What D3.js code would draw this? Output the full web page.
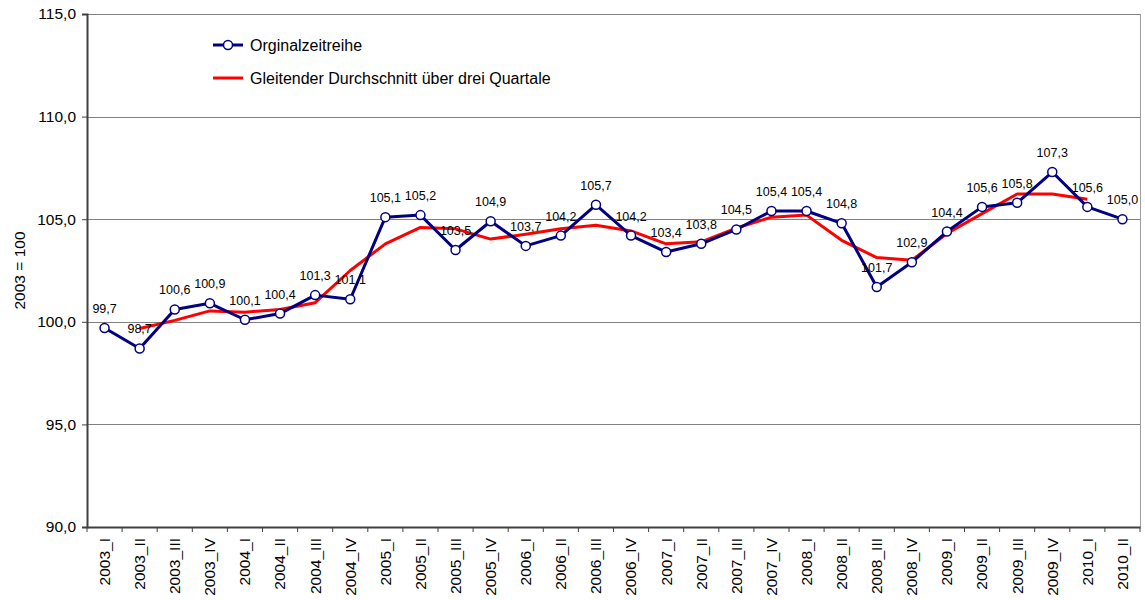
<!DOCTYPE html>
<html><head><meta charset="utf-8">
<script src="https://cdn.jsdelivr.net/npm/d3@7"></script>
<style>body{margin:0;background:#fff;}svg{font-family:"Liberation Sans",Arial,sans-serif;}</style>
</head><body>
<svg id="c" width="1145" height="600"></svg>
<script>
const categories = ["2003_I","2003_II","2003_III","2003_IV","2004_I","2004_II","2004_III","2004_IV","2005_I","2005_II","2005_III","2005_IV","2006_I","2006_II","2006_III","2006_IV","2007_I","2007_II","2007_III","2007_IV","2008_I","2008_II","2008_III","2008_IV","2009_I","2009_II","2009_III","2009_IV","2010_I","2010_II"];
const original = [99.7,98.7,100.6,100.9,100.1,100.4,101.3,101.1,105.1,105.2,103.5,104.9,103.7,104.2,105.7,104.2,103.4,103.8,104.5,105.4,105.4,104.8,101.7,102.9,104.4,105.6,105.8,107.3,105.6,105.0];
const movingAvg = [null,99.67,100.07,100.53,100.47,100.6,100.93,102.5,103.8,104.6,104.53,104.03,104.27,104.53,104.7,104.43,103.8,103.9,104.57,105.1,105.2,103.97,103.13,103.0,104.3,105.27,106.23,106.23,105.97,null];
const yTicks = [90,95,100,105,110,115];
const seriesNames = ["Orginalzeitreihe","Gleitender Durchschnitt über drei Quartale"];
const yTitle = "2003 = 100";

const svg = d3.select("#c");
const L = 87, R = 1140, T = 14, B = 527;
const FS = 15.5;
const x = d3.scaleBand().domain(categories).range([L, R]);
const y = d3.scaleLinear().domain([90,115]).range([B, T]);
const cx = d => x(d) + x.bandwidth()/2;
const fmt = v => v.toFixed(1).replace(".", ",");

// gridlines
svg.append("g").selectAll("line").data(yTicks.filter(t=>t>90)).join("line")
  .attr("x1", L).attr("x2", R).attr("y1", d=>Math.round(y(d))+0.5).attr("y2", d=>Math.round(y(d))+0.5)
  .attr("stroke", "#808080").attr("stroke-width", 1);
// right border
svg.append("line").attr("x1", R+0.5).attr("x2", R+0.5).attr("y1", T).attr("y2", B).attr("stroke","#a0a0a0");

// y axis
const ya = svg.append("g").attr("transform", `translate(${L},0)`)
  .call(d3.axisLeft(y).tickValues(yTicks).tickFormat(fmt).tickSizeOuter(0).tickSize(5).tickPadding(6));
ya.select(".domain").attr("stroke", "#404040").attr("stroke-width", 2);
ya.selectAll(".tick line").attr("stroke", "#404040");
ya.selectAll("text").attr("font-size", FS).attr("fill", "#000").attr("font-family","Liberation Sans, Arial, sans-serif");

// x axis
const xa = svg.append("g").attr("transform", `translate(0,${B})`)
  .call(d3.axisBottom(x).tickSize(0).tickSizeOuter(0));
xa.select(".domain").attr("stroke", "#404040").attr("stroke-width", 2);
xa.selectAll("text").attr("font-size", FS).attr("fill","#000").attr("font-family","Liberation Sans, Arial, sans-serif")
  .attr("transform", "rotate(-90)").attr("text-anchor","end").attr("x", -11).attr("y", 0).attr("dy", "0.35em");
// separator ticks
svg.append("g").selectAll("line").data(categories.concat(["__end"])).join("line")
  .attr("x1", (d,i)=> i<categories.length ? x(d) : R).attr("x2", (d,i)=> i<categories.length ? x(d) : R)
  .attr("y1", B).attr("y2", B+5).attr("stroke","#404040");

// y title
svg.append("text").attr("transform", `translate(25,${(T+B)/2}) rotate(-90)`)
  .attr("text-anchor","middle").attr("font-size", FS).text(yTitle);

// moving avg
const maData = categories.map((c,i)=>({c, v: movingAvg[i]})).filter(d=>d.v!==null);
svg.append("path").datum(maData)
  .attr("d", d3.line().x(d=>cx(d.c)).y(d=>y(d.v)))
  .attr("fill","none").attr("stroke","#ff0000").attr("stroke-width", 3).attr("stroke-linejoin","round");

// original
const orData = categories.map((c,i)=>({c, v: original[i]}));
svg.append("path").datum(orData)
  .attr("d", d3.line().x(d=>cx(d.c)).y(d=>y(d.v)))
  .attr("fill","none").attr("stroke","#000080").attr("stroke-width", 3).attr("stroke-linejoin","round");
svg.append("g").selectAll("circle").data(orData).join("circle")
  .attr("cx", d=>cx(d.c)).attr("cy", d=>y(d.v)).attr("r", 4.5)
  .attr("fill","#fff").attr("stroke","#000080").attr("stroke-width", 1.5);

// labels
svg.append("g").selectAll("text").data(orData).join("text")
  .attr("x", d=>cx(d.c)).attr("y", d=>y(d.v)-15)
  .attr("text-anchor","middle").attr("font-size", 12.5).attr("fill","#000")
  .text(d=>fmt(d.v));

// legend
const lg = svg.append("g");
lg.append("line").attr("x1",213).attr("x2",243).attr("y1",45).attr("y2",45).attr("stroke","#000080").attr("stroke-width",3);
lg.append("circle").attr("cx",228).attr("cy",45).attr("r",4.5).attr("fill","#fff").attr("stroke","#000080").attr("stroke-width",1.5);
lg.append("text").attr("x",250).attr("y",45).attr("dy","0.35em").attr("font-size",16).text(seriesNames[0]);
lg.append("line").attr("x1",213).attr("x2",243).attr("y1",78).attr("y2",78).attr("stroke","#ff0000").attr("stroke-width",3);
lg.append("text").attr("x",250).attr("y",78).attr("dy","0.35em").attr("font-size",16).text(seriesNames[1]);
</script>
</body></html>
